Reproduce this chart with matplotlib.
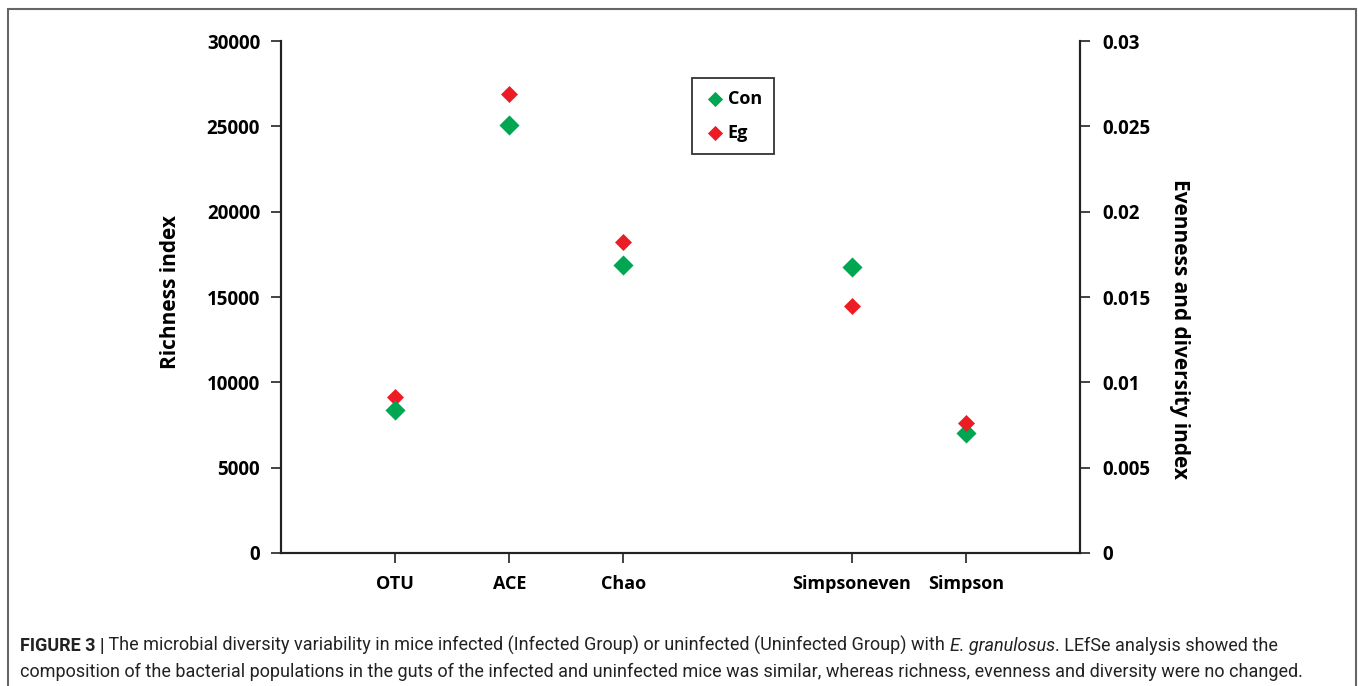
import matplotlib
matplotlib.use("Agg")
import matplotlib.pyplot as plt
from matplotlib.patches import Rectangle

categories = ['OTU', 'ACE', 'Chao', 'Simpsoneven', 'Simpson']
positions = [1, 2, 3, 5, 6]

# richness (left axis)
richness_cats = ['OTU', 'ACE', 'Chao']
con_richness = [8400, 25100, 16870]
eg_richness = [9120, 26900, 18250]

# evenness / diversity (right axis)
diversity_cats = ['Simpsoneven', 'Simpson']
con_diversity = [0.01675, 0.00705]
eg_diversity = [0.01445, 0.0076]

green = '#00a651'
red = '#ed1c24'
plt.rcParams['font.family'] = ['Open Sans', 'DejaVu Sans']

fig = plt.figure(figsize=(13.58, 6.86), dpi=100)
ax = fig.add_axes([0.2069, 0.1939, 0.5884, 0.7463])
ax2 = ax.twinx()

pos = dict(zip(categories, positions))
xr = [pos[c] for c in richness_cats]
xd = [pos[c] for c in diversity_cats]

ax.scatter(xr, eg_richness, marker='D', s=75, color=red, zorder=3, linewidths=0)
ax.scatter(xr, con_richness, marker='D', s=105, color=green, zorder=4, linewidths=0)
ax2.scatter(xd, con_diversity, marker='D', s=105, color=green, zorder=3, linewidths=0)
ax2.scatter(xd, eg_diversity, marker='D', s=75, color=red, zorder=4, linewidths=0)

ax.set_xlim(0, 7)
ax.set_ylim(0, 30000)
ax2.set_ylim(0, 0.03)
ax.set_yticks([0, 5000, 10000, 15000, 20000, 25000, 30000])
ax2.set_yticks([0, 0.005, 0.01, 0.015, 0.02, 0.025, 0.03])
ax2.set_yticklabels(['0', '0.005', '0.01', '0.015', '0.02', '0.025', '0.03'])
ax.set_xticks(positions)
ax.set_xticklabels(categories)

for a in (ax, ax2):
    a.spines['top'].set_visible(False)
    for s in a.spines.values():
        s.set_linewidth(1.5)
        s.set_color('#222222')
    a.tick_params(length=7, width=1.2, color='#222222', labelsize=13.5)
    for lbl in a.get_yticklabels() + a.get_xticklabels():
        lbl.set_fontweight('bold')
ax.tick_params(axis='y', pad=8)
ax2.tick_params(axis='y', pad=9)
ax.tick_params(axis='x', pad=9, labelsize=13)

ax.set_ylabel('Richness index', fontsize=15, fontweight='bold')
ax.yaxis.set_label_coords(-0.125, 0.51)
ax2.set_ylabel('Evenness and diversity index', fontsize=15, fontweight='bold',
               rotation=270, va='center')
ax2.yaxis.set_label_coords(1.125, 0.4375)

h1 = ax2.scatter([], [], marker='D', s=60, color=green, linewidths=0, label='Con')
h2 = ax2.scatter([], [], marker='D', s=60, color=red, linewidths=0, label='Eg')
leg = ax2.legend(handles=[h1, h2], loc='upper left', bbox_to_anchor=(0.514, 0.928),
                 borderaxespad=0, frameon=True, fancybox=False, edgecolor='black',
                 prop={'weight': 'bold', 'size': 13},
                 handletextpad=0.1, labelspacing=0.9, borderpad=0.65, handlelength=1.25)
leg.get_frame().set_linewidth(1.3)

# outer frame
fig.patches.append(Rectangle((8 / 1358, -0.1), 1348 / 1358, 1.1 - 9 / 686,
                             transform=fig.transFigure, fill=False,
                             edgecolor='#666666', linewidth=1.5))

cap = dict(fontsize=13.0, family=['Roboto', 'DejaVu Sans'], color='#222222')
t1 = fig.text(20 / 1358, 1 - 651 / 686, 'FIGURE 3 |', fontweight='bold', **cap)
t2 = ax.annotate(' The microbial diversity variability in mice infected (Infected Group) or uninfected (Uninfected Group) with ',
                 xy=(1, 0), xycoords=t1, va='bottom', annotation_clip=False, **cap)
t3 = ax.annotate('E. granulosus', xy=(1, 0), xycoords=t2, va='bottom', style='italic',
                 annotation_clip=False, **cap)
ax.annotate('. LEfSe analysis showed the', xy=(1, 0), xycoords=t3, va='bottom',
            annotation_clip=False, **cap)
fig.text(20 / 1358, 1 - 677 / 686,
         'composition of the bacterial populations in the guts of the infected and uninfected mice was similar, whereas richness, evenness and diversity were no changed.',
         **cap)

fig.savefig('out.png', dpi=100)
